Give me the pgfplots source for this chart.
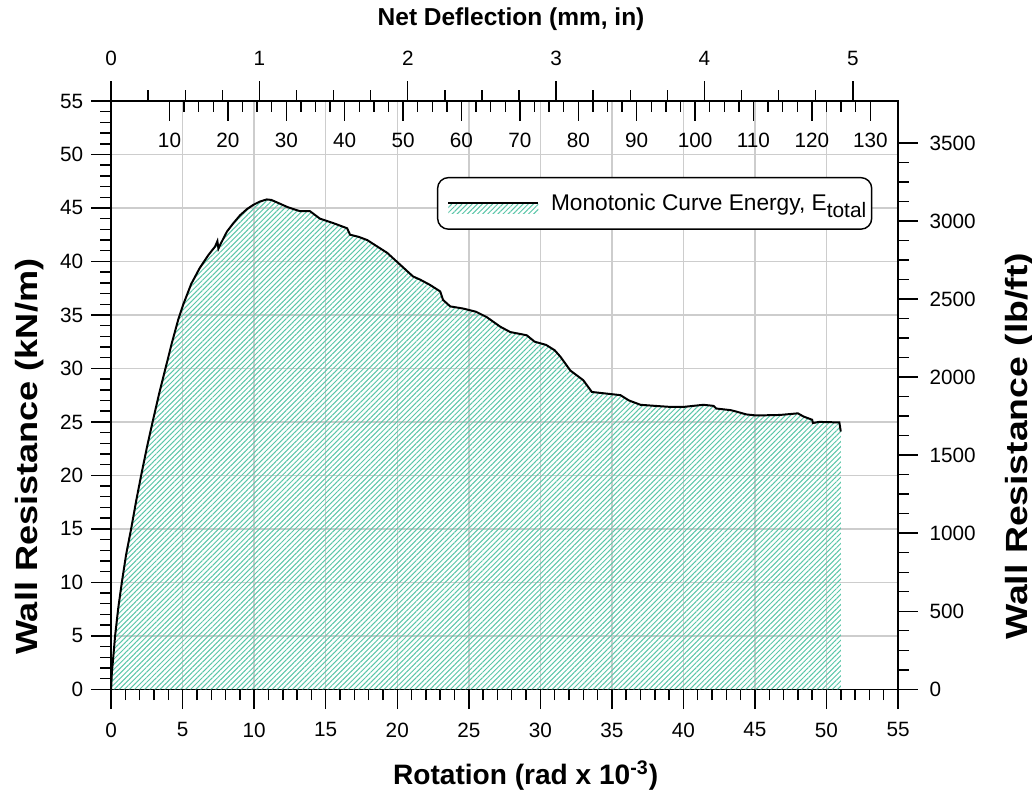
\documentclass[border=0pt]{standalone}
\usepackage{fontspec}
\setmainfont{Liberation Sans}
\usepackage{graphicx}
\usepackage{pgfplots}
\usepackage{pgfplotstable}
\pgfplotsset{compat=1.18}
\usetikzlibrary{patterns.meta}
\definecolor{hatch}{RGB}{90,198,168}
\definecolor{gridc}{RGB}{205,205,205}

\pgfplotstableread{
x y
0 0
0.05 1.5
0.15 3.0
0.28 5.0
0.5 7.6
0.75 10.0
1.05 12.6
1.4 15.0
1.75 17.6
2.1 20.0
2.5 22.6
2.9 25.0
3.35 27.6
3.8 30.0
4.25 32.4
4.7 34.6
5.05 36.0
5.6 37.9
6.2 39.4
6.8 40.6
7.27 41.4
7.43 41.9
7.5 41.2
7.6 41.5
8.1 42.8
8.5 43.5
9.0 44.3
9.5 44.9
9.95 45.3
10.4 45.6
10.88 45.8
11.2 45.75
11.8 45.4
12.3 45.1
12.74 44.9
13.2 44.7
13.9 44.7
14.3 44.3
14.6 44.0
15.5 43.6
16.5 43.1
16.7 42.5
17.3 42.3
17.9 42.0
18.6 41.4
19.3 40.8
20.2 39.7
21.1 38.6
21.6 38.3
22.3 37.8
23.0 37.2
23.2 36.4
23.7 35.8
24.6 35.6
25.5 35.3
26.25 34.8
27.2 33.9
27.9 33.4
29.05 33.1
29.6 32.5
30.4 32.2
31.0 31.7
31.4 31.1
32.1 29.8
33.0 28.9
33.6 27.8
34.6 27.65
35.6 27.5
36.2 27.0
37.0 26.6
38.0 26.5
39.1 26.4
40.0 26.4
41.4 26.6
42.1 26.5
42.3 26.25
43.3 26.1
43.6 26.0
44.4 25.7
45.1 25.6
46.75 25.65
48.0 25.8
48.4 25.5
49.0 25.2
49.05 24.9
49.5 25.0
50.9 24.95
51.0 24.1
}\curve

\begin{document}
\begin{tikzpicture}
\pgfplotsset{
  every axis/.append style={scale only axis, width=437pt, height=326.7pt,
    tick align=outside, major tick length=11pt, minor tick length=6pt,
    tick style={black, line width=0.8pt},
    axis line style={black, line width=0.9pt},
    tick label style={font=\fontsize{11.5}{13}\selectfont},
    /pgf/number format/assume math mode=true,
    /pgf/number format/set thousands separator={},
  }
}
\begin{axis}[name=main, xmin=0, xmax=55, ymin=0, ymax=55,
  xtick={0,5,...,55}, ytick={0,5,...,55}, minor x tick num=4, minor y tick num=4,
  xtick pos=lower, ytick pos=left,
  xticklabel style={yshift=-4pt},
  yticklabel style={xshift=-1pt},
  grid=major, major grid style={gridc, line width=0.8pt},
  legend style={at={(rel axis cs:0.414,0.871)}, anchor=north west, draw=black,
    line width=0.8pt, rounded corners=6pt, font=\fontsize{12.6}{15}\selectfont,
    inner xsep=3pt, inner ysep=7pt, nodes={inner xsep=0pt}},
  legend cell align=left,
  legend image code/.code={
    \path[draw=none, fill=none] (-3pt,0pt) -- (57pt,0pt);
    \path[draw=none, pattern={Lines[angle=45,distance=2pt,line width=0.55pt]}, pattern color=hatch, sharp corners] (0pt,-5.5pt) rectangle (50pt,0pt);
    \draw[black, line width=1.1pt, sharp corners] (0pt,0pt) -- (50pt,0pt);
  },
]
\addplot[draw=none, pattern={Lines[angle=45,distance=2pt,line width=0.55pt]}, pattern color=hatch, forget plot] table {\curve} \closedcycle;
\addplot[black, line width=1.1pt] table {\curve};
\addlegendentry{Monotonic Curve Energy, E\raisebox{-0.3em}{\fontsize{11.6}{12}\selectfont total}}
\end{axis}
% right axis lb/ft
\begin{axis}[xmin=0, xmax=55, ymin=0, ymax=3768.7,
  axis x line=none, axis y line*=right,
  yticklabel style={xshift=3pt},
  ytick={0,500,...,3500}, minor y tick num=3]
\end{axis}
% top mm axis (inside)
\begin{axis}[xmin=0, xmax=134.75, ymin=0, ymax=1,
  axis y line=none, axis x line*=top, tick align=inside,
  xtick={10,20,...,130}, minor x tick num=3,
  xticklabel style={anchor=north, yshift=-14pt}]
\end{axis}
% top inch axis (outside)
\begin{axis}[xmin=0, xmax=5.305, ymin=0, ymax=1,
  axis y line=none, axis x line*=top,
  xticklabel style={yshift=5pt},
  xtick={0,1,...,5}, minor x tick num=3]
\end{axis}
\node[font=\fontsize{15.6}{18}\selectfont\bfseries, anchor=base] at ([xshift=11.7pt,yshift=-52.8pt]main.south) {Rotation (rad x 10\textsuperscript{-3})};
\node[font=\fontsize{13.6}{16}\selectfont\bfseries, anchor=base] at ([xshift=3.6pt,yshift=42.2pt]main.north) {Net Deflection (mm, in)};
\node[font=\fontsize{17}{19}\selectfont\bfseries, anchor=base west, rotate=90, inner sep=0pt] at ([xshift=-41.1pt,yshift=-144.4pt]main.west) {\scalebox{1.18}[1]{Wall Resistance (kN/m)}};
\node[font=\fontsize{17}{19}\selectfont\bfseries, anchor=base west, rotate=90, inner sep=0pt] at ([xshift=71.7pt,yshift=-136pt]main.east) {\scalebox{1.22}[1]{Wall Resistance (lb/ft)}};
\pgfresetboundingbox
\path[use as bounding box] ([xshift=-61.7pt,yshift=-57.8pt]main.south west) rectangle ([xshift=74.4pt,yshift=56.1pt]main.north east);
\end{tikzpicture}
\end{document}
